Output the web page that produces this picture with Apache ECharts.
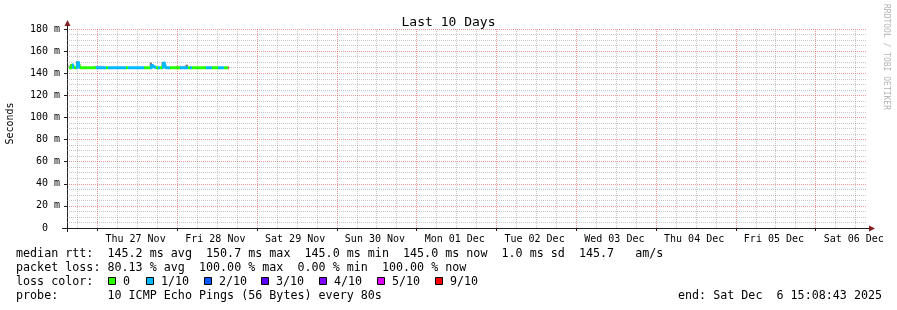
<!DOCTYPE html>
<html><head><meta charset="utf-8">
<script src="https://cdn.jsdelivr.net/npm/echarts@6/dist/echarts.min.js"></script>
<style>html,body{margin:0;padding:0;background:#fff}#c{width:897px;height:310px}</style>
</head><body><div id="c"></div>
<script>
// ---------- data ----------
const chartTitle = 'Last 10 Days';
const startTime = new Date(2025, 10, 26, 15, 8, 43).getTime();
const endTime = new Date(2025, 11, 6, 15, 8, 43).getTime();
const sampleMinutes = 36; // consolidated sample step
// median rtt (ms) per sample
const medianRtt = [
  145.0,145.0,148.3,145.0,145.0,150.7,145.0,145.0,145.0,145.0,
  145.0,145.0,145.0,145.0,145.0,145.0,145.0,145.0,145.0,145.0,
  145.0,145.0,145.0,145.0,145.0,145.0,145.0,145.0,145.0,145.0,
  145.0,145.0,145.0,145.0,145.0,145.0,145.0,145.0,145.0,145.0,
  145.0,145.0,147.7,145.8,145.0,145.0,145.0,145.0,150.1,145.0,
  145.0,145.0,145.0,145.0,145.0,145.0,145.0,145.0,145.0,145.0,
  145.0,145.0,145.0,145.0,145.0,145.0,145.0,145.0,145.0,145.0,
  145.0,145.0,145.0,145.0,145.0,145.0,145.0,145.0,145.0,145.0,
  145.0
];
// highest ping per sample (outer smoke)
const pingMax = [
  147.2,148.0,148.3,145.5,150.7,150.7,145.5,145.5,145.5,145.5,
  145.5,145.5,145.5,146.8,146.8,146.8,146.8,146.8,145.5,145.5,
  145.5,145.5,145.5,145.5,145.5,145.5,145.5,145.5,145.5,145.5,
  145.5,145.5,145.5,145.5,145.5,145.5,145.5,145.5,145.5,145.5,
  145.5,149.5,147.7,146.6,145.5,145.5,145.5,150.1,150.1,145.5,
  145.5,145.5,145.5,145.5,146.8,146.8,146.8,146.8,146.8,147.7,
  145.5,145.5,145.5,145.5,145.5,145.5,145.5,145.5,145.5,145.5,
  145.5,145.5,145.5,145.5,145.5,145.5,145.5,145.5,145.5,145.5,
  145.5
];
// second highest ping per sample (dense inner smoke)
const pingUpper = [
  145.3,148.0,145.3,145.3,150.7,145.3,145.3,145.3,145.3,145.3,
  145.3,145.3,145.3,145.3,145.3,145.3,145.3,145.3,145.3,145.3,
  145.3,145.3,145.3,145.3,145.3,145.3,145.3,145.3,145.3,145.3,
  145.3,145.3,145.3,145.3,145.3,145.3,145.3,145.3,145.3,145.3,
  145.3,149.5,145.3,145.3,145.3,145.3,145.3,150.1,145.3,145.3,
  145.3,145.3,145.3,145.3,145.3,145.3,145.3,145.3,145.3,147.7,
  145.3,145.3,145.3,145.3,145.3,145.3,145.3,145.3,145.3,145.3,
  145.3,145.3,145.3,145.3,145.3,145.3,145.3,145.3,145.3,145.3,
  145.3
];
// lost pings (of 10) per sample
const lossCount = [
  0,0,1,0,1,1,0,0,0,0,
  0,0,0,0,1,1,1,1,1,0,
  1,1,1,1,1,1,1,1,1,0,
  1,1,1,1,1,1,1,1,0,0,
  0,1,1,1,0,1,0,1,1,1,
  1,0,0,0,0,0,1,1,1,1,
  0,1,0,0,0,0,0,0,0,1,
  1,1,0,0,0,1,1,1,0,0,
  9
];
const lossLevels = [0, 1, 2, 3, 4, 5, 9];
const lossLabels = ['0', '1/10', '2/10', '3/10', '4/10', '5/10', '9/10'];
const lossColors = ['#26ff00', '#00b8ff', '#0059ff', '#5e00ff', '#7e00ff', '#dd00ff', '#ff0000'];
const yTicks = [0, 20, 40, 60, 80, 100, 120, 140, 160, 180];
const yMinorStep = 5;      // minor horizontal grid every 5 ms
const gridHours = 6;       // minor vertical grid step
const majorHours = 24;     // major vertical grid step
const legendLines = [
  'median rtt:  145.2 ms avg  150.7 ms max  145.0 ms min  145.0 ms now  1.0 ms sd  145.7   am/s',
  'packet loss: 80.13 % avg  100.00 % max  0.00 % min  100.00 % now',
  'loss color:',
  'probe:       10 ICMP Echo Pings (56 Bytes) every 80s'
];
const endText = 'end: Sat Dec  6 15:08:43 2025';
const watermark = 'RRDTOOL / TOBI OETIKER';
const dayNames = ['Sun','Mon','Tue','Wed','Thu','Fri','Sat'];
const monthNames = ['Jan','Feb','Mar','Apr','May','Jun','Jul','Aug','Sep','Oct','Nov','Dec'];

// ---------- build ----------
const stepMs = sampleMinutes * 60000;
const sampleTimes = medianRtt.map((_, i) => startTime + stepMs * (i + 0.5));
const colorOfLoss = l => lossColors[lossLevels.indexOf(l)];

const pieces = [];
for (let i = 0; i < lossCount.length; i++) {
  const c = colorOfLoss(lossCount[i]);
  const lo = sampleTimes[i] - stepMs / 2, hi = sampleTimes[i] + stepMs / 2;
  const last = pieces[pieces.length - 1];
  if (last && last.color === c) last.lt = hi; else pieces.push({gte: lo, lt: hi, color: c});
}
pieces[pieces.length - 1].lt = endTime;

// grid lines (rrdtool style dotted): calendar verticals (local time), value horizontals
const majorColor = 'rgba(222,79,79,0.6)';
const minorColor = 'rgba(143,143,143,0.5)';
const gridLine = c => ({color: c, type: [1, 1], width: 1});
const gridMarks = [];
{
  const d = new Date(startTime); d.setMinutes(0, 0, 0);
  d.setHours(Math.ceil(d.getHours() / gridHours) * gridHours);
  while (d.getTime() < endTime) {
    const major = d.getHours() % majorHours === 0;
    gridMarks.push({xAxis: d.getTime(), lineStyle: gridLine(major ? majorColor : minorColor)});
    d.setHours(d.getHours() + gridHours);
  }
  const yMax = yTicks[yTicks.length - 1], yMajor = yTicks[1] - yTicks[0];
  for (let v = yMinorStep; v < yMax; v += yMinorStep) {
    if (v % yMajor !== 0) gridMarks.push({yAxis: v, lineStyle: gridLine(minorColor)});
  }
}

const MONO = 'DejaVu Sans Mono';
const AXIS = '#1f1f1f', ARROW = '#801f1f';

const graphics = [];
legendLines.forEach((s, k) => {
  graphics.push({type: 'text', x: 16, y: 254 + 14 * k,
    style: {text: s, font: '11.7px "' + MONO + '"', fill: '#000', verticalAlign: 'middle', align: 'left'}});
});
graphics.push({type: 'text', x: 678, y: 296,
  style: {text: endText, font: '11.7px "' + MONO + '"', fill: '#000', verticalAlign: 'middle', align: 'left'}});
const boxX = [108, 146, 204, 261, 319, 377, 435];
lossLabels.forEach((lab, k) => {
  graphics.push({type: 'rect', shape: {x: boxX[k] + 0.5, y: 277.5, width: 7, height: 7},
    style: {fill: lossColors[k], stroke: '#000', lineWidth: 1}});
  graphics.push({type: 'text', x: boxX[k] + 15, y: 282,
    style: {text: lab, font: '11.7px "' + MONO + '"', fill: '#000', verticalAlign: 'middle', align: 'left'}});
});
graphics.push({type: 'text', x: 886, y: 4, rotation: -Math.PI / 2,
  style: {text: watermark, font: '8px "' + MONO + '"', fill: '#b4b4b4', verticalAlign: 'middle', align: 'left'}});
// axis extensions and arrows (rrdtool style)
graphics.push({type: 'line', shape: {x1: 67.5, y1: 24, x2: 67.5, y2: 29}, style: {stroke: AXIS, lineWidth: 1}});
graphics.push({type: 'line', shape: {x1: 67.5, y1: 228, x2: 67.5, y2: 232}, style: {stroke: AXIS, lineWidth: 1}});
graphics.push({type: 'line', shape: {x1: 62, y1: 228.5, x2: 67, y2: 228.5}, style: {stroke: AXIS, lineWidth: 1}});
graphics.push({type: 'line', shape: {x1: 866, y1: 228.5, x2: 870, y2: 228.5}, style: {stroke: AXIS, lineWidth: 1}});
graphics.push({type: 'polygon', shape: {points: [[64.5, 26], [70.5, 26], [67.5, 20]]}, style: {fill: ARROW}});
graphics.push({type: 'polygon', shape: {points: [[869, 225.5], [869, 231.5], [875, 228.5]]}, style: {fill: ARROW}});

const smokeBase = medianRtt;
const option = {
  backgroundColor: '#ffffff',
  animation: false,
  title: {text: chartTitle, left: 'center', top: 11,
    textStyle: {fontFamily: MONO, fontSize: 13, fontWeight: 'normal', color: '#000'}},
  grid: {left: 67, top: 29, width: 800, height: 199, containLabel: false, outerBoundsMode: 'none'},
  xAxis: {
    type: 'time', min: startTime, max: endTime,
    minInterval: 86400000, maxInterval: 86400000,
    axisLine: {show: true, lineStyle: {color: AXIS, width: 1}},
    axisTick: {show: true, length: 3, lineStyle: {color: AXIS}},
    splitLine: {show: false},
    axisLabel: {
      fontFamily: MONO, fontSize: 10, color: '#000', margin: 6, align: 'left',
      padding: [0, 0, 0, 8], showMinLabel: false, showMaxLabel: false, hideOverlap: false,
      formatter: v => { const d = new Date(v); return dayNames[d.getDay()] + ' ' + String(d.getDate()).padStart(2, '0') + ' ' + monthNames[d.getMonth()]; }
    }
  },
  yAxis: {
    type: 'value', min: yTicks[0], max: yTicks[yTicks.length - 1], interval: yTicks[1] - yTicks[0],
    name: 'Seconds', nameLocation: 'middle', nameRotate: 90, nameGap: 52,
    nameTextStyle: {fontFamily: MONO, fontSize: 10, color: '#000', padding: [0, 0, 0, 10]},
    axisLine: {show: true, lineStyle: {color: AXIS, width: 1}},
    axisTick: {show: true, length: 3, lineStyle: {color: AXIS}},
    splitLine: {show: true, lineStyle: gridLine(majorColor)},
    axisLabel: {fontFamily: MONO, fontSize: 10, color: '#000', margin: 7,
      formatter: v => v === 0 ? '0  ' : v + ' m'}
  },
  visualMap: {show: false, type: 'piecewise', dimension: 0, seriesIndex: 4, pieces: pieces},
  series: [
    {type: 'bar', stack: 'outer', barWidth: 2, barGap: '-100%', silent: true,
      itemStyle: {color: 'rgba(0,0,0,0)'},
      markLine: {silent: true, symbol: ['none', 'none'], label: {show: false}, animation: false, data: gridMarks},
      data: sampleTimes.map((t, i) => [t, smokeBase[i]])},
    {type: 'bar', stack: 'outer', barWidth: 2, barGap: '-100%', silent: true,
      itemStyle: {color: '#c4c4c4'},
      data: sampleTimes.map((t, i) => [t, Math.max(0, pingMax[i] - smokeBase[i])])},
    {type: 'bar', stack: 'inner', barWidth: 2, barGap: '-100%', silent: true,
      itemStyle: {color: 'rgba(0,0,0,0)'},
      data: sampleTimes.map((t, i) => [t, smokeBase[i]])},
    {type: 'bar', stack: 'inner', barWidth: 2, barGap: '-100%', silent: true,
      itemStyle: {color: '#6e6e6e'},
      data: sampleTimes.map((t, i) => [t, Math.max(0, pingUpper[i] - smokeBase[i])])},
    {type: 'line', step: 'middle', symbol: 'none', z: 5, silent: true,
      lineStyle: {width: 3},
      data: sampleTimes.map((t, i) => [t, medianRtt[i]])}
  ],
  graphic: graphics
};
const chart = echarts.init(document.getElementById('c'), null, {renderer: 'canvas'});
chart.setOption(option);
</script>
</body></html>
